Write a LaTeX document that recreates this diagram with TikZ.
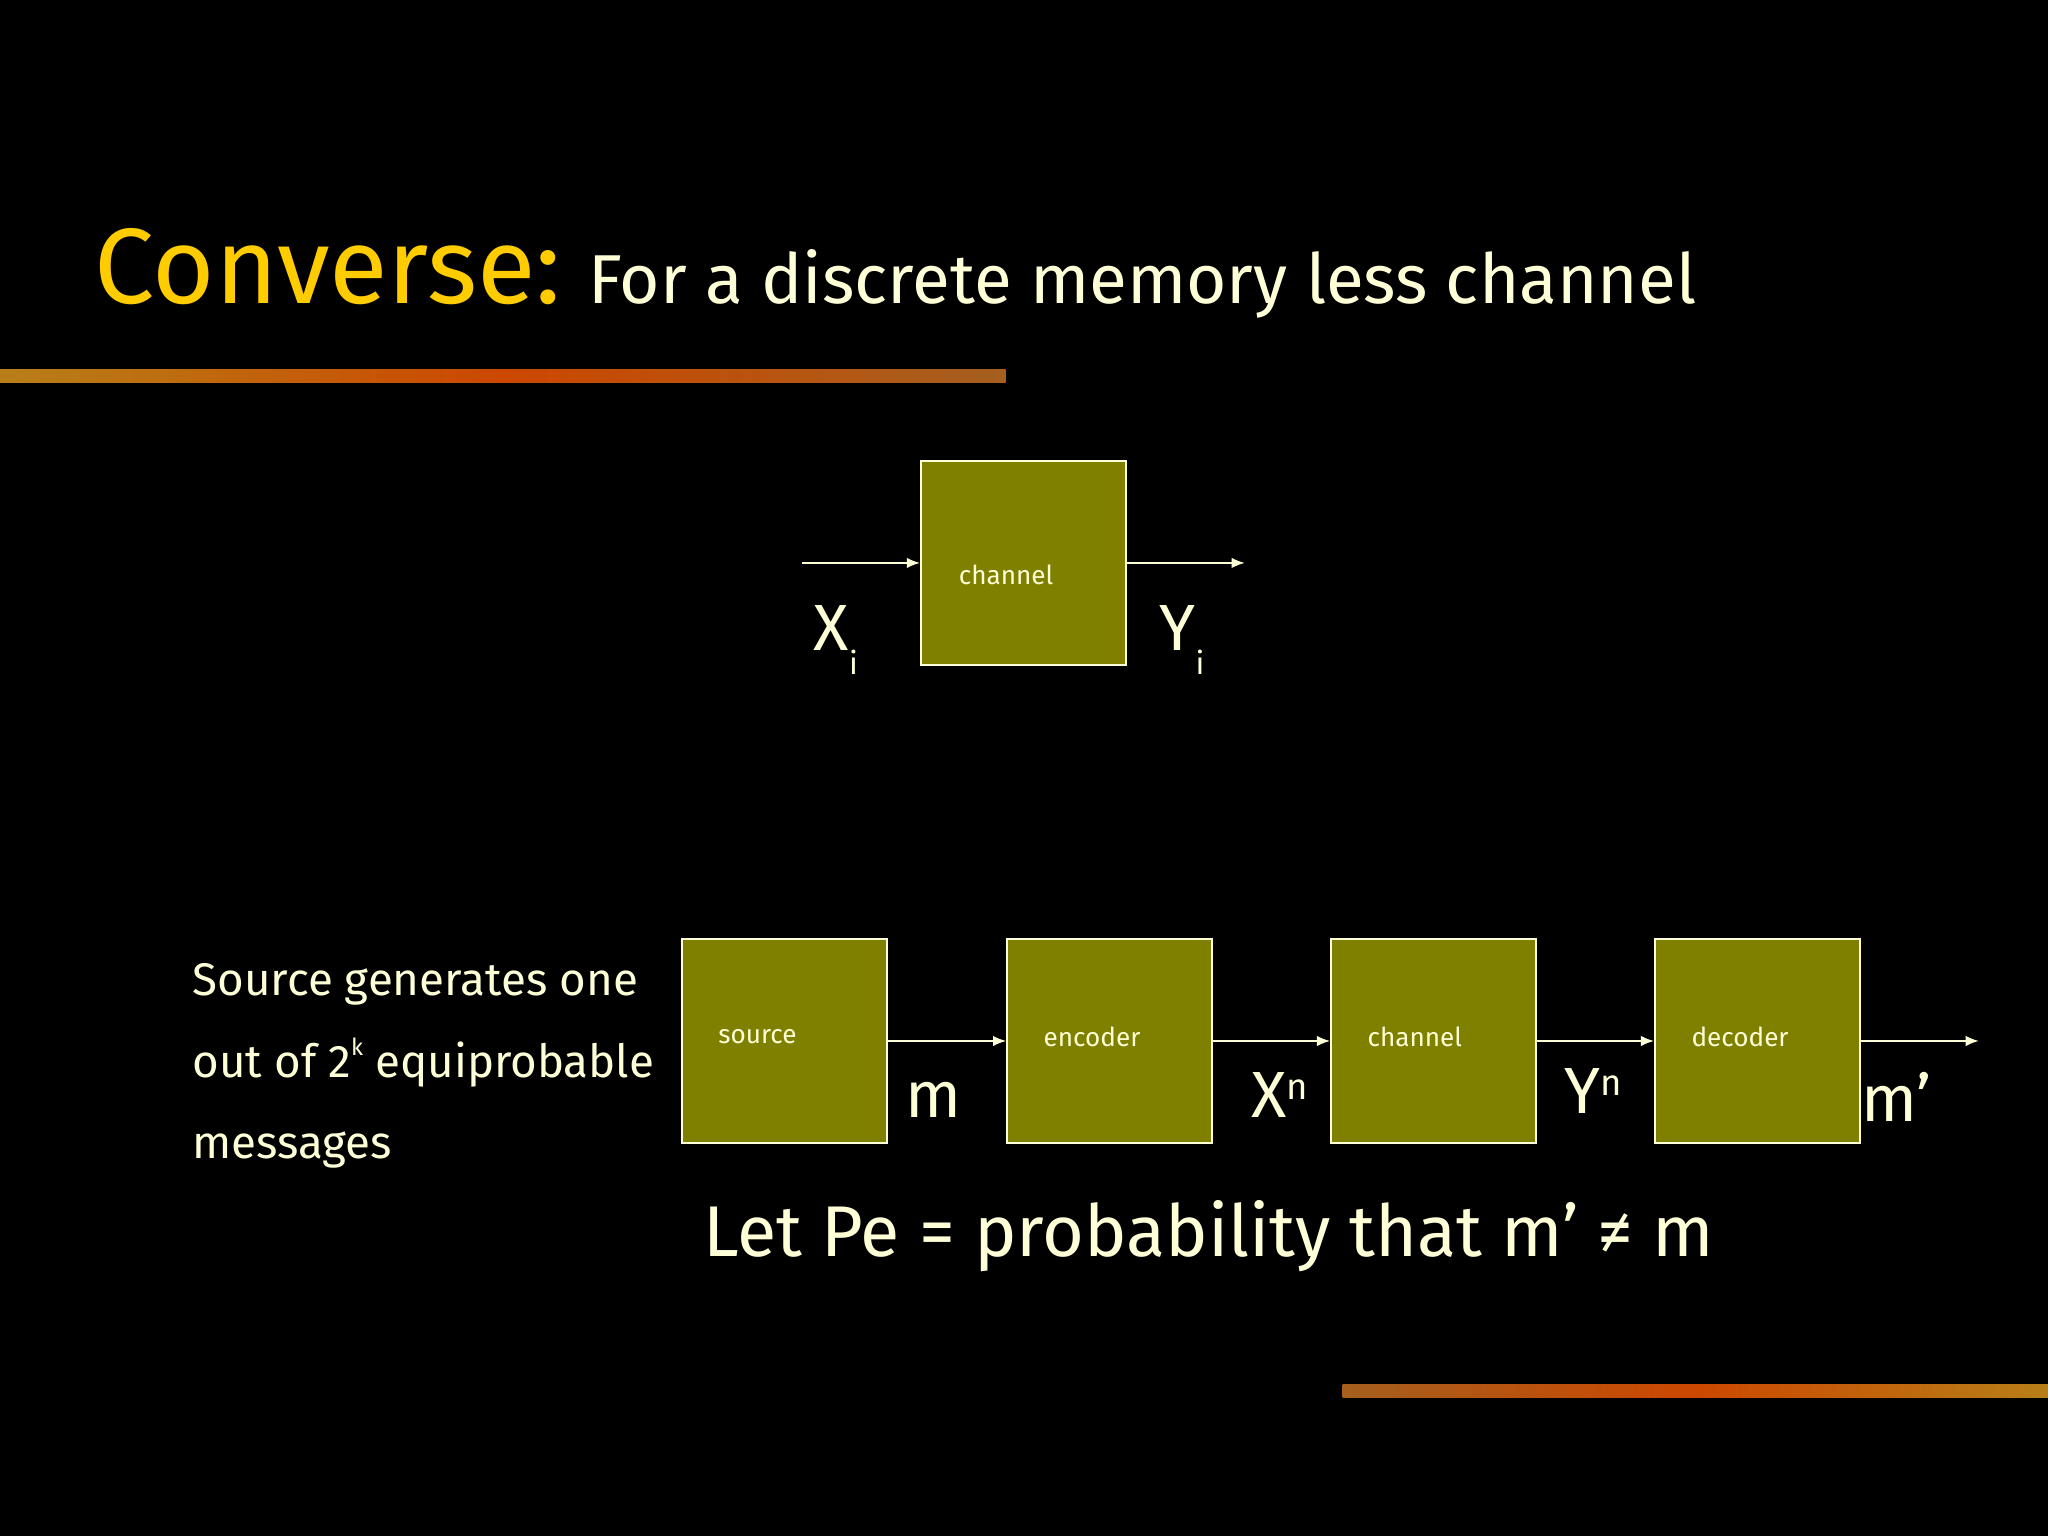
\documentclass[tikz,border=0pt]{standalone}
\usepackage{fontspec}
\setmainfont{Fira Sans}
\usetikzlibrary{arrows.meta}
\definecolor{cream}{RGB}{255,255,215}
\definecolor{gold}{RGB}{255,204,0}
\definecolor{olive}{RGB}{128,128,0}
\definecolor{rust}{RGB}{165,95,30}
\tikzset{
 blk/.style={draw=cream,fill=olive,line width=0.7pt,minimum width=78.5pt,minimum height=78pt,inner sep=0},
 blab/.style={text=cream,font=\fontsize{10}{12}\selectfont,anchor=west},
 arr/.style={draw=cream,line width=0.6pt,-{Latex[length=5pt,width=4pt]}},
 sym/.style={text=cream,font=\fontsize{25}{28}\selectfont},
 body/.style={text=cream,font=\fontsize{17.5}{20}\selectfont,anchor=base west}
}
\begin{document}
\begin{tikzpicture}[x=0.5pt,y=-0.5pt]
\fill[black] (0,0) rectangle (1568,1176);
\useasboundingbox (0,0) rectangle (1568,1176);
% stripes
\shade[left color=rust!80!yellow,right color=rust,middle color=orange!70!red!80!black] (0,283) rectangle (770,293);
\shade[left color=rust,right color=rust!80!yellow,middle color=orange!70!red!80!black] (1028,1060) rectangle (1568,1070);
% title
\node[anchor=base west,text=gold,font=\fontsize{41}{46}\selectfont,inner sep=0] (t1) at (72,232) {Converse:};
\node[anchor=base west,text=cream,font=\fontsize{26.5}{30}\selectfont,inner sep=0] (t2) at (450,232) {For a discrete memory less channel};
% top
\node[blk] (ch0) at (783.5,431) {};
\node[blab] at (727,440) {channel};
\coordinate (a0) at (614,431);
\coordinate (b0) at (953,431);
\draw[arr] (a0) -- (ch0.west);
\draw[arr] (ch0.east) -- (b0);
\node[sym] (xi) at (640,490) {X\raisebox{-0.7ex}{\fontsize{12}{12}\selectfont i}};
\node[sym] (yi) at (905,490) {Y\raisebox{-0.7ex}{\fontsize{12}{12}\selectfont i}};
% bottom chain
\node[blk] (src) at (600.5,797) {};
\node[blk] (enc) at (849.5,797) {};
\node[blk] (chn) at (1097.5,797) {};
\node[blk] (dec) at (1345.5,797) {};
\node[blab] at (543,794) {source};
\node[blab] at (792,794) {encoder};
\node[blab] at (1040,794) {channel};
\node[blab] at (1288,794) {decoder};
\coordinate (out) at (1515,797);
\draw[arr] (src.east) -- (enc.west);
\draw[arr] (enc.east) -- (chn.west);
\draw[arr] (chn.east) -- (dec.west);
\draw[arr] (dec.east) -- (out);
\node[sym] (m) at (715,842) {m};
\node[sym] (xn) at (980,838) {X\raisebox{0.5ex}{\fontsize{14}{14}\selectfont n}};
\node[sym] (yn) at (1220,835) {Y\raisebox{0.5ex}{\fontsize{14}{14}\selectfont n}};
\node[sym] (mp) at (1452,840) {m'};
% left text
\node[body,inner sep=0] (l1) at (147,762) {Source generates one};
\node[body,inner sep=0] (l2) at (147,825) {out of 2\raisebox{0.9ex}{\fontsize{9}{9}\selectfont k} equiprobable};
\node[body,inner sep=0] (l3) at (147,887) {messages};
% bottom formula
\node[anchor=base west,text=cream,font=\fontsize{27.5}{32}\selectfont,inner sep=0] (pe) at (538,962) {Let Pe = probability that m' ≠ m};
\end{tikzpicture}
\end{document}
